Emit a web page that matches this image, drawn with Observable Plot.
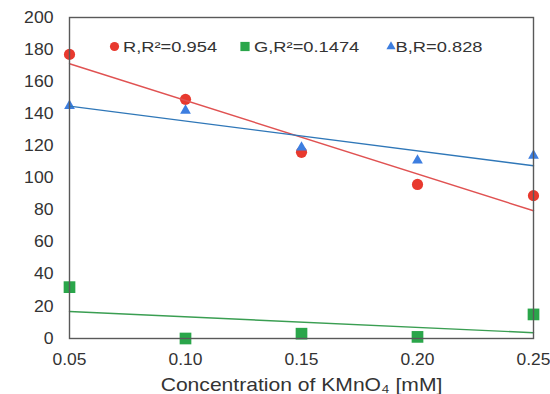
<!DOCTYPE html>
<html>
<head>
<meta charset="utf-8">
<script src="https://cdn.jsdelivr.net/npm/d3@7"></script>
<script src="https://cdn.jsdelivr.net/npm/@observablehq/plot@0.6"></script>
<style>
  html, body { margin: 0; padding: 0; background: #fff; }
  #chart svg { display: block; }
</style>
</head>
<body>
<div id="chart"></div>
<script>
// Mean channel intensity vs. KMnO4 concentration
const concentration = [0.05, 0.10, 0.15, 0.20, 0.25];
const redValues   = [177, 149, 116, 96, 89];
const greenValues = [32, 0, 3, 1, 15];
const blueValues  = [145, 142, 119, 111, 114];

const xTicks = [0.05, 0.10, 0.15, 0.20, 0.25];
const yTicks = [0, 20, 40, 60, 80, 100, 120, 140, 160, 180, 200];

const seriesNames  = ["R", "G", "B"];
const legendLabels = ["R,R²=0.954", "G,R²=0.1474", "B,R=0.828"];
const xLabel = "Concentration of KMnO₄ [mM]";

const markerColors = {R: "#e8392e", G: "#2aa64a", B: "#3d7ee0"};
const lineColors   = {R: "#e05252", G: "#3a9e52", B: "#2f77b8"};
const symbols      = {R: "circle", G: "square", B: "triangle"};
const sizes        = {R: 5.6, G: 6.6, B: 4};
const legendSizes  = {R: 4.6, G: 5.2, B: 3.4};

const rows = (name, values) => concentration.map((c, i) => ({c, v: values[i], s: name}));
const R = rows("R", redValues);
const G = rows("G", greenValues);
const B = rows("B", blueValues);

const font = "'Liberation Sans', Arial, sans-serif";

const legendItems = seriesNames.map((s, i) => ({s, label: legendLabels[i]}));
// legend marker and text offsets from the frame's top-left corner
const legendMarkerDx = [45, 175.5, 321.5];
const legendTextDx   = [53.5, 184.5, 326];
const legendDy = 29.5;

const plot = Plot.plot({
  width: 550,
  height: 394,
  marginLeft: 69,
  marginRight: 17,
  marginTop: 17,
  marginBottom: 56,
  style: {fontFamily: font, fontSize: "16px", color: "#333", background: "#fff"},
  x: {domain: [0.05, 0.25]},
  y: {domain: [0, 200]},
  marks: [
    Plot.axisY({ticks: yTicks, tickSize: 0, tickPadding: 16, label: null, fontSize: 16}),
    Plot.axisX({ticks: xTicks, tickSize: 0, tickPadding: 15, tickFormat: d3.format(".2f"), label: null, fontSize: 16}),
    ...[R, G, B].map(d => Plot.dot(d, {
      x: "c", y: "v",
      symbol: symbols[d[0].s], r: sizes[d[0].s],
      fill: markerColors[d[0].s], stroke: "none", clip: false
    })),
    ...[R, G, B].map(d => Plot.linearRegressionY(d, {
      x: "c", y: "v", ci: 0,
      stroke: lineColors[d[0].s], strokeWidth: 1.4
    })),
    Plot.frame({stroke: "#595959", strokeWidth: 1.4}),
    // legend row inside the frame
    ...legendItems.map((d, i) => Plot.dot([d], {
      frameAnchor: "top-left", dx: legendMarkerDx[i], dy: legendDy - 0.5,
      symbol: symbols[d.s], r: legendSizes[d.s],
      fill: markerColors[d.s], stroke: "none"
    })),
    ...legendItems.map((d, i) => Plot.text([d], {
      frameAnchor: "top-left", lineAnchor: "middle", dx: legendTextDx[i], dy: legendDy,
      text: "label", textAnchor: "start", fontSize: 15, fill: "#333"
    })),
    Plot.text([xLabel], {
      frameAnchor: "bottom", lineAnchor: "middle", dy: 46.5, text: d => d,
      fontSize: 18.5, fill: "#333"
    })
  ]
});

document.getElementById("chart").appendChild(plot);

// widen the label glyphs slightly (wide sans text)
function widen(texts, k) {
  texts.forEach(t => {
    const len = t.getComputedTextLength();
    t.setAttribute("textLength", (len * k).toFixed(1));
    t.setAttribute("lengthAdjust", "spacingAndGlyphs");
  });
}
const allTexts = [...plot.querySelectorAll("text")];
widen([...plot.querySelectorAll('g[aria-label="y-axis tick label"] text')], 1.1);
widen([...plot.querySelectorAll('g[aria-label="x-axis tick label"] text')], 1.09);
widen(allTexts.filter(t => legendLabels.includes(t.textContent)), 1.22);
widen(allTexts.filter(t => t.textContent === xLabel), 1.14);
</script>
</body>
</html>
